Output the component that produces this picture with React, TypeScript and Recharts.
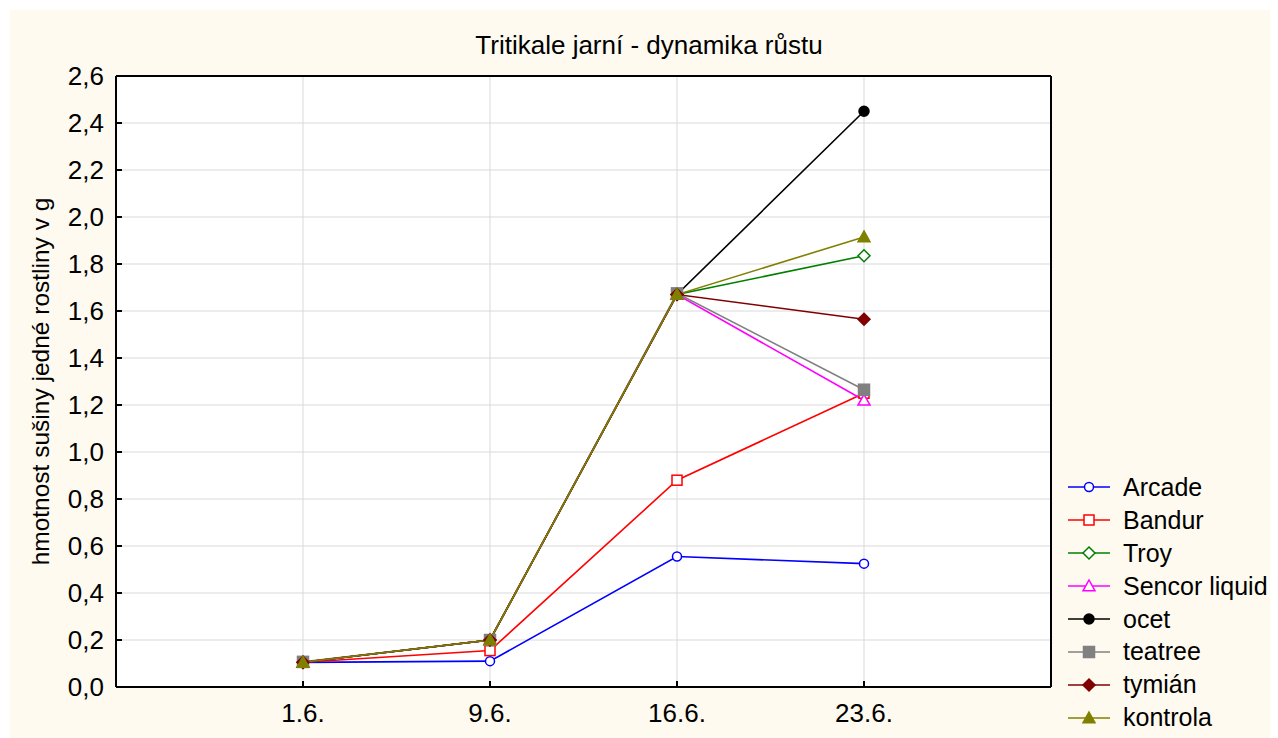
import React from 'react';
import {
  LineChart,
  Line,
  XAxis,
  YAxis,
  CartesianGrid,
  Legend,
} from 'recharts';

// sampling dates (June)
const dates = ['1.6.', '9.6.', '16.6.', '23.6.'];

// dry weight of one plant, g
const arcade = [0.105, 0.11, 0.555, 0.525];
const bandur = [0.105, 0.155, 0.88, 1.25];
const troy = [0.105, 0.2, 1.67, 1.835];
const sencor = [0.105, 0.2, 1.67, 1.22];
const ocet = [0.105, 0.2, 1.67, 2.45];
const teatree = [0.107, 0.2, 1.675, 1.265];
const tymian = [0.105, 0.2, 1.67, 1.565];
const kontrola = [0.105, 0.2, 1.67, 1.915];

const yTicks = [0, 0.2, 0.4, 0.6, 0.8, 1.0, 1.2, 1.4, 1.6, 1.8, 2.0, 2.2, 2.4, 2.6];
const xTicks = [1, 2, 3, 4];

type Shape = 'circle' | 'square' | 'diamond' | 'triangle';

const series: { key: string; name: string; color: string; shape: Shape; filled: boolean; values: number[] }[] = [
  { key: 'arcade', name: 'Arcade', color: '#0000ff', shape: 'circle', filled: false, values: arcade },
  { key: 'bandur', name: 'Bandur', color: '#ff0000', shape: 'square', filled: false, values: bandur },
  { key: 'troy', name: 'Troy', color: '#008000', shape: 'diamond', filled: false, values: troy },
  { key: 'sencor', name: 'Sencor liquid', color: '#ff00ff', shape: 'triangle', filled: false, values: sencor },
  { key: 'ocet', name: 'ocet', color: '#000000', shape: 'circle', filled: true, values: ocet },
  { key: 'teatree', name: 'teatree', color: '#808080', shape: 'square', filled: true, values: teatree },
  { key: 'tymian', name: 'tymián', color: '#800000', shape: 'diamond', filled: true, values: tymian },
  { key: 'kontrola', name: 'kontrola', color: '#808000', shape: 'triangle', filled: true, values: kontrola },
];

const data = dates.map((d, i) => {
  const row: Record<string, number | string> = { x: i + 1, date: d };
  series.forEach((s) => {
    row[s.key] = s.values[i];
  });
  return row;
});

const FONT = '"Liberation Sans", Arial, sans-serif';

function Marker({ cx, cy, shape, color, filled }: { cx: number; cy: number; shape: Shape; color: string; filled: boolean }) {
  const fill = filled ? color : '#ffffff';
  const sw = 1.5;
  if (shape === 'circle') {
    return <circle cx={cx} cy={cy} r={filled ? 5 : 4.5} fill={fill} stroke={color} strokeWidth={sw} />;
  }
  if (shape === 'square') {
    const h = filled ? 5.5 : 5;
    return <rect x={cx - h} y={cy - h} width={2 * h} height={2 * h} fill={fill} stroke={color} strokeWidth={sw} />;
  }
  if (shape === 'diamond') {
    const h = 6;
    return (
      <polygon
        points={`${cx},${cy - h} ${cx + h},${cy} ${cx},${cy + h} ${cx - h},${cy}`}
        fill={fill}
        stroke={color}
        strokeWidth={sw}
      />
    );
  }
  const h = 6;
  return (
    <polygon
      points={`${cx},${cy - h} ${cx + h},${cy + h * 0.8} ${cx - h},${cy + h * 0.8}`}
      fill={fill}
      stroke={color}
      strokeWidth={sw}
    />
  );
}

const fmtY = (v: number) => v.toFixed(1).replace('.', ',');

function LegendBox() {
  return (
    <div style={{ fontFamily: FONT, fontSize: 25, color: '#000', width: 212 }}>
      {series.map((s) => (
        <div key={s.key} style={{ display: 'flex', alignItems: 'center', height: 32.9 }}>
          <svg width={46} height={20} style={{ marginRight: 11, flexShrink: 0 }}>
            <line x1={2} y1={10} x2={44} y2={10} stroke={s.color} strokeWidth={1.5} />
            <Marker cx={23} cy={10} shape={s.shape} color={s.color} filled={s.filled} />
          </svg>
          <span style={{ whiteSpace: 'nowrap' }}>{s.name}</span>
        </div>
      ))}
    </div>
  );
}

export default function App() {
  return (
    <div style={{ width: 1270, height: 730, background: '#ffffff', paddingLeft: 2, paddingTop: 2, boxSizing: 'border-box' }}>
      <div style={{ position: 'relative', width: 1268, height: 728, background: '#fefaef' }}>
        <div
          style={{
            position: 'absolute',
            left: 0,
            width: 1278,
            top: 20,
            textAlign: 'center',
            fontFamily: FONT,
            fontSize: 26,
            color: '#000',
          }}
        >
          Tritikale jarní - dynamika růstu
        </div>
        <LineChart width={1268} height={728} data={data} margin={{ top: 65, right: 226, bottom: 0, left: 0 }}>
          <CartesianGrid stroke="#d9d9d9" strokeWidth={1} fill="#ffffff" />
          <XAxis
            xAxisId={0}
            dataKey="x"
            type="number"
            domain={[0, 5]}
            ticks={xTicks}
            tickFormatter={(v: number) => dates[v - 1]}
            height={51}
            stroke="#000"
            strokeWidth={2}
            tickSize={-6}
            tickMargin={23}
            tick={{ fill: '#000', fontSize: 26, fontFamily: FONT }}
          />
          <XAxis
            xAxisId="top"
            orientation="top"
            dataKey="x"
            type="number"
            domain={[0, 5]}
            ticks={xTicks}
            height={1}
            stroke="#000"
            strokeWidth={2}
            tickSize={-6}
            tick={false}
          />
          <YAxis
            yAxisId={0}
            domain={[0, 2.6]}
            ticks={yTicks}
            tickFormatter={fmtY}
            width={106}
            stroke="#000"
            strokeWidth={2}
            tickSize={-6}
            tickMargin={18}
            tick={{ fill: '#000', fontSize: 26, fontFamily: FONT }}
            label={{
              value: 'hmotnost sušiny jedné rostliny v g',
              angle: -90,
              position: 'center',
              dx: -23,
              fill: '#000',
              fontSize: 24.5,
              fontFamily: FONT,
            }}
          />
          <YAxis
            yAxisId="right"
            orientation="right"
            domain={[0, 2.6]}
            ticks={yTicks}
            width={1}
            stroke="#000"
            strokeWidth={2}
            tickSize={-6}
            tick={false}
          />
          {series.map((s) => (
            <Line
              key={s.key}
              dataKey={s.key}
              name={s.name}
              type="linear"
              stroke={s.color}
              strokeWidth={1.6}
              isAnimationActive={false}
              dot={(p: any) => (
                <Marker key={`${s.key}-${p.index}`} cx={p.cx} cy={p.cy} shape={s.shape} color={s.color} filled={s.filled} />
              )}
              activeDot={false}
            />
          ))}
          <Legend
            layout="vertical"
            align="center"
            verticalAlign="middle"
            content={() => <LegendBox />}
            wrapperStyle={{ left: 1056, top: 461, width: 212 }}
          />
        </LineChart>
      </div>
    </div>
  );
}
